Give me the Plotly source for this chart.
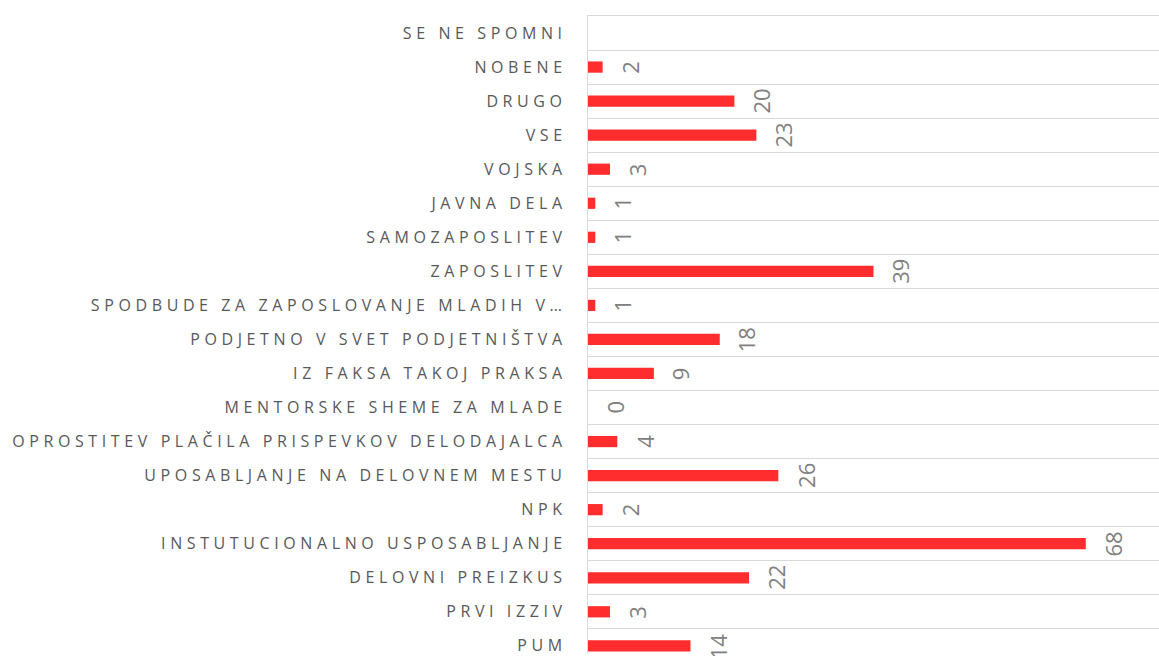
import plotly.graph_objects as go

# kategorije od zgoraj navzdol
kategorije = [
    "SE NE SPOMNI",
    "NOBENE",
    "DRUGO",
    "VSE",
    "VOJSKA",
    "JAVNA DELA",
    "SAMOZAPOSLITEV",
    "ZAPOSLITEV",
    "SPODBUDE ZA ZAPOSLOVANJE MLADIH V…",
    "PODJETNO V SVET PODJETNIŠTVA",
    "IZ FAKSA TAKOJ PRAKSA",
    "MENTORSKE SHEME ZA MLADE",
    "OPROSTITEV PLAČILA PRISPEVKOV DELODAJALCA",
    "UPOSABLJANJE NA DELOVNEM MESTU",
    "NPK",
    "INSTUTUCIONALNO USPOSABLJANJE",
    "DELOVNI PREIZKUS",
    "PRVI IZZIV",
    "PUM",
]
vrednosti = [None, 2, 20, 23, 3, 1, 1, 39, 1, 18, 9, 0, 4, 26, 2, 68, 22, 3, 14]

fig = go.Figure()

fig.add_trace(
    go.Bar(
        x=vrednosti,
        y=kategorije,
        orientation="h",
        marker=dict(color="#FF2D2D", line=dict(width=0)),
        width=0.33,
        hoverinfo="x+y",
    )
)

# oznake vrednosti (zavrtene)
for kat, v in zip(kategorije, vrednosti):
    if v is None:
        continue
    fig.add_annotation(
        x=v,
        y=kat,
        text=str(v),
        textangle=-90,
        showarrow=False,
        xanchor="left",
        yanchor="middle",
        xshift=10,
        font=dict(family="Open Sans", size=22, color="#808080"),
    )

fig.update_layout(
    width=1159,
    height=656,
    margin=dict(l=588, r=0, t=16, b=0),
    plot_bgcolor="white",
    paper_bgcolor="white",
    showlegend=False,
    bargap=0.67,
)

fig.update_xaxes(
    range=[0, 78],
    side="top",
    showgrid=False,
    zeroline=False,
    showticklabels=False,
    showline=True,
    linecolor="#D9D9D9",
    linewidth=1.3,
)

fig.update_yaxes(
    type="category",
    categoryorder="array",
    categoryarray=kategorije,
    range=[18.21, -0.5],
    tickson="boundaries",
    showgrid=True,
    gridcolor="#D9D9D9",
    gridwidth=1.3,
    showline=True,
    linecolor="#D9D9D9",
    linewidth=1.3,
    ticks="",
    ticklabelstandoff=17,
    tickfont=dict(family="Open Sans", size=16, color="#595959"),
)

# razmik med črkami, kot v Excelu, in brez roba strani
razmik = """
document.body.style.margin = '0';
document.querySelectorAll('.ytick text').forEach(function (t) {
    t.style.letterSpacing = '4.6px';
});
"""

fig.write_html("out.html", post_script=razmik, config={"displayModeBar": False})
